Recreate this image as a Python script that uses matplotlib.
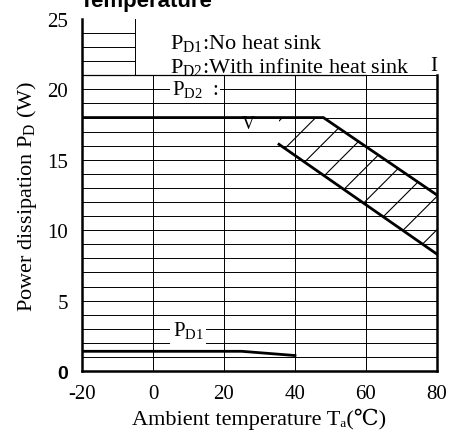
import numpy as np
import matplotlib
matplotlib.use("Agg")
import matplotlib.pyplot as plt
from matplotlib.patches import Rectangle

plt.rcParams["font.family"] = ["Liberation Serif", "DejaVu Serif", "DejaVu Sans"]
plt.rcParams["mathtext.fontset"] = "custom"
plt.rcParams["mathtext.rm"] = "Liberation Serif"
plt.rcParams["hatch.linewidth"] = 0.8

# PD2 (infinite heat sink): upper and lower edge of the band
pd2_upper_t = [-20, 48, 80]
pd2_upper_p = [18, 18, 12.5]
pd2_lower_t = [35.5, 80]
pd2_lower_p = [16.1, 8.3]

# PD1 (no heat sink)
pd1_t = [-20, 25, 40]
pd1_p = [1.4, 1.4, 1.1]

x_ticks = [-20, 0, 20, 40, 60, 80]
x_labels = ["-20", "0", "20", "40", "60", "80"]
y_ticks = [0, 5, 10, 15, 20, 25]
y_labels = ["0", "5", "10", "15", "20", "25"]

fig = plt.figure(figsize=(4.49, 4.35), dpi=100)
ax = fig.add_axes([0.1826, 0.1448, 0.7906, 0.8092])
ax.set_xlim(-20, 80)
ax.set_ylim(0, 25)

# grid
for g in np.arange(1, 25):
    ax.axhline(g, color="black", lw=0.7, zorder=1)
for g in [0, 20, 40, 60]:
    ax.axvline(g, color="black", lw=0.7, zorder=1)

# blank area behind the legend text
ax.add_patch(Rectangle((-5, 21), 85, 4.2, facecolor="white", edgecolor="none", zorder=2))
ax.plot([-5, -5], [21, 25], color="black", lw=0.7, zorder=3)
ax.plot([-20, 60], [21, 21], color="black", lw=0.9, zorder=3)

# PD2 band
t_fill = np.linspace(35.5, 80, 200)
up = np.interp(t_fill, pd2_upper_t, pd2_upper_p)
lo = np.interp(t_fill, pd2_lower_t, pd2_lower_p)
ax.fill_between(t_fill, lo, up, facecolor="none", edgecolor="black", hatch="/", lw=0, zorder=3)
ax.plot(pd2_upper_t, pd2_upper_p, color="black", lw=2, zorder=4)
ax.plot(pd2_lower_t, pd2_lower_p, color="black", lw=2, zorder=4)

# PD1
ax.plot(pd1_t, pd1_p, color="black", lw=2, zorder=4)

ax.text(4.8, 23.3, r"P$_{\rm D1}$:No heat sink", fontsize=16, va="center", zorder=5)
ax.text(4.8, 21.6, r"P$_{\rm D2}$:With infinite heat sink", fontsize=16, va="center", zorder=5)
ax.text(5.3, 20.0, r"P$_{\rm D2}$  :", fontsize=15, va="center", zorder=5,
        bbox=dict(facecolor="white", edgecolor="none", pad=1))
ax.text(5.6, 2.9, r"P$_{\rm D1}$", fontsize=15, va="center", zorder=5,
        bbox=dict(facecolor="white", edgecolor="none", pad=2))
ax.text(26.8, 17.55, "V", fontsize=13, va="center", ha="center", zorder=5)
ax.text(80, 21.7, "I", fontsize=15, va="center", ha="right", zorder=5)

ax.set_xticks(x_ticks)
ax.set_xticklabels(x_labels, fontsize=15)
ax.set_yticks(y_ticks)
ax.set_yticklabels(y_labels, fontsize=15)
ax.tick_params(length=0)
ax.tick_params(axis="x", pad=9)
ax.tick_params(axis="y", pad=10)
zero = ax.get_yticklabels()[0]
zero.set_fontfamily("Liberation Sans")
zero.set_fontweight("bold")
zero.set_fontsize(14)

for s in ["left", "bottom", "right"]:
    ax.spines[s].set_linewidth(1.8)
ax.spines["top"].set_visible(False)
ax.spines["right"].set_bounds(0, 21)

ax.set_xlabel("Ambient temperature T\u2090(\u2103)", fontsize=16, labelpad=4)
ax.set_ylabel("Power dissipation P$_{\\rm D}$ (W)", fontsize=16, labelpad=6)

fig.text(80 / 449, 1 - 7 / 435, "Temperature", fontsize=16, fontweight="bold",
         family="Liberation Sans", va="baseline", ha="left")

fig.savefig("out.png", dpi=100)
